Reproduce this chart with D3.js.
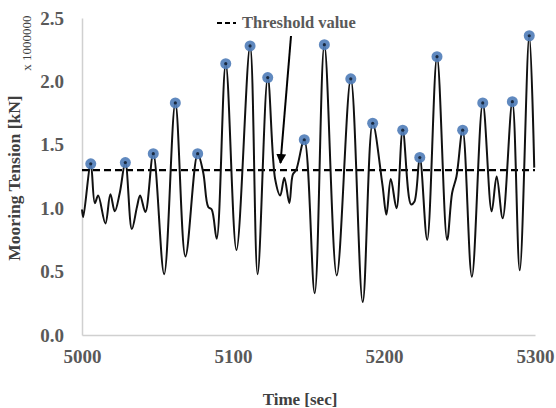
<!DOCTYPE html>
<html>
<head>
<meta charset="utf-8">
<script src="https://cdn.jsdelivr.net/npm/d3@7"></script>
<style>
  html, body { margin: 0; padding: 0; background: #fff; }
  svg { display: block; font-family: "Liberation Serif", "Times New Roman", serif; }
</style>
</head>
<body>
<svg id="chart" width="556" height="408"></svg>
<script>
// Mooring tension record (x 1,000,000 kN) against simulation time [sec]
const times = [5000, 5000.8, 5005.8, 5008.5, 5010.7, 5015.5, 5018.8, 5021.7, 5025, 5028.7,
  5033, 5036.4, 5038.5, 5042, 5047.2, 5054.4, 5061.8, 5068.5, 5076.6, 5080.3, 5083.6, 5085.9, 5089.2, 5095.2,
  5102.3, 5111.3, 5116.3, 5123, 5127.9, 5131.3, 5134, 5137.3, 5139.6, 5141.8, 5147.2,
  5154.1, 5160.5, 5168.7, 5178, 5185.9, 5192.5, 5198.9, 5201.6, 5204.5, 5208.3, 5212.4,
  5217.9, 5220.1, 5223.7, 5228.6, 5235.1, 5241.8, 5245.1, 5248, 5252.1, 5258.2, 5265.4,
  5271.3, 5274.6, 5278.6, 5285, 5289.9, 5296.2, 5299.5];
const tension = [0.99, 0.93, 1.35, 1.04, 1.10, 0.88, 1.11, 0.975, 1.12, 1.36,
  0.835, 1.01, 1.10, 0.97, 1.43, 0.48, 1.83, 0.62, 1.43, 1.28, 1.01, 0.99, 0.76, 2.14,
  0.67, 2.28, 0.48, 2.03, 1.23, 1.10, 1.24, 1.04, 1.265, 1.30, 1.54,
  0.33, 2.29, 0.47, 2.02, 0.26, 1.67, 1.19, 0.95, 1.23, 1.00, 1.615,
  1.03, 1.05, 1.40, 0.75, 2.195, 0.75, 1.12, 1.25, 1.615, 0.46, 1.83,
  0.975, 1.25, 0.92, 1.84, 0.51, 2.36, 1.32];
// Local maxima flagged with markers
const peakTimes = [5005.8, 5028.7, 5047.2, 5061.8, 5076.6, 5095.2, 5111.3, 5123, 5147.2, 5160.5,
  5178, 5192.5, 5212.4, 5223.7, 5235.1, 5252.1, 5265.4, 5285, 5296.2];
const peakValues = [1.35, 1.36, 1.43, 1.83, 1.43, 2.14, 2.28, 2.03, 1.54, 2.29,
  2.02, 1.67, 1.615, 1.40, 2.195, 1.615, 1.83, 1.84, 2.36];
const threshold = 1.3;
const xTicks = [5000, 5100, 5200, 5300];
const yTicks = [0, 0.5, 1.0, 1.5, 2.0, 2.5];

const svg = d3.select("#chart");
const x = d3.scaleLinear().domain([5000, 5300]).range([82, 535]);
const y = d3.scaleLinear().domain([0, 2.5]).range([335, 18]);

const labelColor = "#595959";

// axes
const xAxis = svg.append("g").attr("transform", `translate(0,${y(0)})`)
  .call(d3.axisBottom(x).tickValues(xTicks).tickSize(0).tickPadding(15).tickFormat(d3.format("d")));
xAxis.select(".domain").attr("stroke", "#d0d0d0").attr("stroke-width", 1.5);
xAxis.selectAll("text").attr("fill", labelColor).attr("font-size", 19).attr("font-weight", "bold")
  .attr("font-family", "Liberation Serif, serif").attr("dy", "0.71em");

const yAxis = svg.append("g").attr("transform", `translate(${x(5000)},0)`)
  .call(d3.axisLeft(y).tickValues(yTicks).tickSize(0).tickPadding(18).tickFormat(d3.format(".1f")));
yAxis.select(".domain").attr("stroke", "#d0d0d0").attr("stroke-width", 1.5);
yAxis.selectAll("text").attr("fill", labelColor).attr("font-size", 19).attr("font-weight", "bold")
  .attr("font-family", "Liberation Serif, serif");

// threshold line
svg.append("line")
  .attr("x1", x(5000)).attr("x2", x(5300))
  .attr("y1", y(threshold)).attr("y2", y(threshold))
  .attr("stroke", "#000").attr("stroke-width", 2.2).attr("stroke-dasharray", "7,4");

// tension series
const line = d3.line()
  .x((d, i) => x(times[i]))
  .y(d => y(d))
  .curve(d3.curveCatmullRom.alpha(0.5));
svg.append("path")
  .attr("d", line(tension))
  .attr("fill", "none").attr("stroke", "#111").attr("stroke-width", 2);

// peak markers
svg.append("g").selectAll("circle")
  .data(peakValues)
  .join("circle")
  .attr("cx", (d, i) => x(peakTimes[i]))
  .attr("cy", d => y(d))
  .attr("r", 5.5)
  .attr("fill", "#4f7cb8").attr("fill-opacity", 0.9);
svg.append("g").selectAll("circle")
  .data(peakValues)
  .join("circle")
  .attr("cx", (d, i) => x(peakTimes[i]))
  .attr("cy", d => y(d))
  .attr("r", 1.6)
  .attr("fill", "#1a2a40");

// legend
svg.append("line")
  .attr("x1", 217).attr("x2", 236).attr("y1", 23).attr("y2", 23)
  .attr("stroke", "#000").attr("stroke-width", 2.2).attr("stroke-dasharray", "5,3");
svg.append("text").attr("x", 242).attr("y", 28)
  .attr("fill", labelColor).attr("font-size", 16.5).attr("font-weight", "bold")
  .text("Threshold value");

// arrow pointing to the threshold line
svg.append("defs").append("marker")
  .attr("id", "arrowhead").attr("viewBox", "0 0 10 10")
  .attr("refX", 9).attr("refY", 5).attr("markerWidth", 5).attr("markerHeight", 5)
  .attr("orient", "auto")
  .append("path").attr("d", "M0,0 L10,5 L0,10 z").attr("fill", "#000");
svg.append("line")
  .attr("x1", 291).attr("y1", 36).attr("x2", 280.5).attr("y2", 163)
  .attr("stroke", "#000").attr("stroke-width", 2)
  .attr("marker-end", "url(#arrowhead)");

// axis titles
svg.append("text")
  .attr("x", 300).attr("y", 405)
  .attr("text-anchor", "middle")
  .attr("fill", "#404040").attr("font-size", 17).attr("font-weight", "bold")
  .text("Time [sec]");
svg.append("text")
  .attr("transform", "translate(20,178) rotate(-90)")
  .attr("text-anchor", "middle")
  .attr("fill", "#404040").attr("font-size", 17.5).attr("font-weight", "bold")
  .text("Mooring Tension [kN]");
svg.append("text")
  .attr("transform", "translate(31,43) rotate(-90)")
  .attr("text-anchor", "middle")
  .attr("fill", "#404040").attr("font-size", 13)
  .text("x 1000000");
</script>
</body>
</html>
